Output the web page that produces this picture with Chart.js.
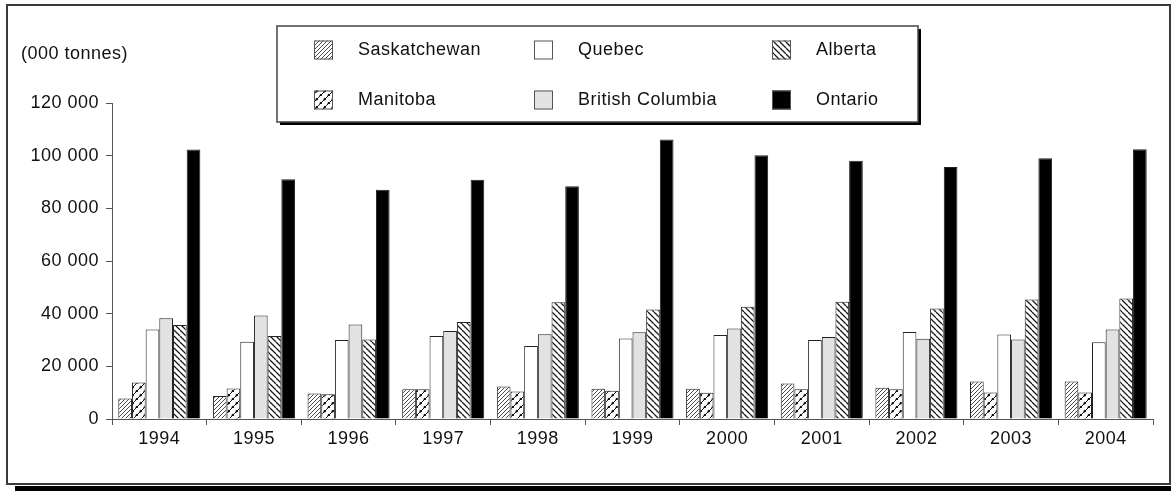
<!DOCTYPE html>
<html>
<head>
<meta charset="utf-8">
<script src="https://cdn.jsdelivr.net/npm/chart.js@4/dist/chart.umd.min.js"></script>
<style>
  html, body { margin: 0; padding: 0; background: #fff; }
  #wrap { width: 1171px; height: 491px; }
</style>
</head>
<body>
<div id="wrap"><canvas id="c" width="1171" height="491"></canvas></div>
<script>
// Production by province, thousands of tonnes
const years = ['1994', '1995', '1996', '1997', '1998', '1999', '2000', '2001', '2002', '2003', '2004'];
const seriesNames = ['Saskatchewan', 'Manitoba', 'Quebec', 'British Columbia', 'Alberta', 'Ontario'];
const saskatchewan = [7800, 8700, 9700, 11300, 12300, 11500, 11500, 13500, 11900, 14200, 14200];
const manitoba = [13900, 11600, 9400, 11300, 10400, 10700, 10000, 11300, 11300, 10100, 10100];
const quebec = [34000, 29300, 30000, 31500, 27700, 30600, 31900, 30000, 33000, 32100, 29100];
const britishColumbia = [38300, 39300, 35900, 33400, 32200, 32900, 34400, 31100, 30500, 30200, 34000];
const alberta = [35700, 31500, 30200, 36800, 44300, 41600, 42600, 44500, 42000, 45400, 45800];
const ontario = [102300, 91000, 87100, 90900, 88400, 106100, 100200, 98100, 95700, 99000, 102400];
const yTicks = [0, 20000, 40000, 60000, 80000, 100000, 120000];
const unitLabel = '(000 tonnes)';

const FONT = '"Liberation Sans", Arial, Helvetica, sans-serif';
const FONT_SIZE = 18;
const SPACING = '0.5px';
const TEXT = '#111';

// Diagonal hatch tiles
function hatch(dir, size, color, width, dash, base) {
  const c = document.createElement('canvas');
  c.width = c.height = size;
  const g = c.getContext('2d');
  g.fillStyle = '#fff';
  g.fillRect(0, 0, size, size);
  const line = (w, d) => {
    g.strokeStyle = color;
    g.lineWidth = w;
    g.setLineDash(d || []);
    g.beginPath();
    for (const o of [-size, 0, size]) {
      if (dir === '/') { g.moveTo(o, size); g.lineTo(o + size, 0); }
      else { g.moveTo(o, 0); g.lineTo(o + size, size); }
    }
    g.stroke();
  };
  if (base) line(base);
  line(width, dash);
  return g.createPattern(c, 'repeat');
}

const fills = [
  hatch('/', 4, '#4a4a4a', 1),
  hatch('/', 8, '#000', 2.2, [2, 3.66], 0.9),
  '#ffffff',
  '#e2e2e2',
  hatch('\\', 6, '#1a1a1a', 1.3),
  '#000000'
];
const values = [saskatchewan, manitoba, quebec, britishColumbia, alberta, ontario];

const datasets = seriesNames.map((name, i) => ({
  label: name,
  data: values[i],
  backgroundColor: fills[i],
  borderColor: '#222',
  borderWidth: 1,
  borderSkipped: 'bottom',
  categoryPercentage: 0.867,
  barPercentage: 1.0
}));

const frameAndLegend = {
  id: 'frameAndLegend',
  beforeDraw(chart) {
    const ctx = chart.ctx;
    ctx.letterSpacing = SPACING;
    ctx.save();
    ctx.fillStyle = '#fff';
    ctx.fillRect(0, 0, chart.width, chart.height);
    // outer frame with drop shadow
    ctx.fillStyle = '#000';
    ctx.fillRect(15, 486, chart.width, 6);
    ctx.strokeStyle = '#3a3a3a';
    ctx.lineWidth = 2;
    ctx.strokeRect(7, 5, 1163, 479);
    ctx.restore();
  },
  afterDraw(chart) {
    const ctx = chart.ctx;
    ctx.save();
    ctx.letterSpacing = SPACING;
    // unit label
    ctx.fillStyle = TEXT;
    ctx.font = FONT_SIZE + 'px ' + FONT;
    ctx.textBaseline = 'middle';
    ctx.textAlign = 'left';
    ctx.fillText(unitLabel, 21, 54);

    // legend box
    const bx = 277, by = 26, bw = 641, bh = 96;
    ctx.fillStyle = '#000';
    ctx.fillRect(bx + 3, by + 3, bw, bh);
    ctx.fillStyle = '#fff';
    ctx.fillRect(bx, by, bw, bh);
    ctx.strokeStyle = '#444';
    ctx.lineWidth = 1.5;
    ctx.strokeRect(bx, by, bw, bh);

    const colX = [314, 534, 772];
    const rowY = [50, 100];
    const sq = 19;
    chart.data.datasets.forEach((ds, i) => {
      const x = colX[Math.floor(i / 2)];
      const y = rowY[i % 2];
      ctx.fillStyle = ds.backgroundColor;
      ctx.fillRect(x, y - sq / 2, sq, sq);
      ctx.strokeStyle = '#555';
      ctx.lineWidth = 1;
      ctx.strokeRect(x + 0.5, y - sq / 2 + 0.5, sq - 1, sq - 1);
      ctx.fillStyle = TEXT;
      ctx.font = FONT_SIZE + 'px ' + FONT;
      ctx.textAlign = 'left';
      ctx.textBaseline = 'middle';
      ctx.fillText(ds.label, x + sq + 25, y);
    });
    ctx.restore();
  }
};

new Chart(document.getElementById('c'), {
  type: 'bar',
  data: { labels: years, datasets },
  options: {
    responsive: false,
    animation: false,
    devicePixelRatio: 1,
    layout: { padding: { top: 103, right: 18, left: 0, bottom: 0 } },
    plugins: {
      legend: { display: false },
      tooltip: { enabled: false },
      title: { display: false }
    },
    scales: {
      x: {
        offset: true,
        grid: { offset: true, drawOnChartArea: false, drawTicks: true, tickLength: 6, color: '#555' },
        border: { display: true, color: '#555', width: 1 },
        ticks: { color: TEXT, font: { family: FONT, size: FONT_SIZE }, padding: 3, maxRotation: 0 },
        afterFit(scale) { scale.height = 72; }
      },
      y: {
        min: 0,
        max: 120000,
        afterBuildTicks(scale) { scale.ticks = yTicks.map(v => ({ value: v })); },
        grid: { drawOnChartArea: false, drawTicks: true, tickLength: 6, color: '#555' },
        border: { display: true, color: '#555', width: 1 },
        ticks: {
          color: TEXT,
          font: { family: FONT, size: FONT_SIZE },
          padding: 7,
          callback: v => String(v).replace(/\B(?=(\d{3})+(?!\d))/g, ' ')
        },
        afterFit(scale) { scale.width = 112; }
      }
    }
  },
  plugins: [frameAndLegend]
});
</script>
</body>
</html>
